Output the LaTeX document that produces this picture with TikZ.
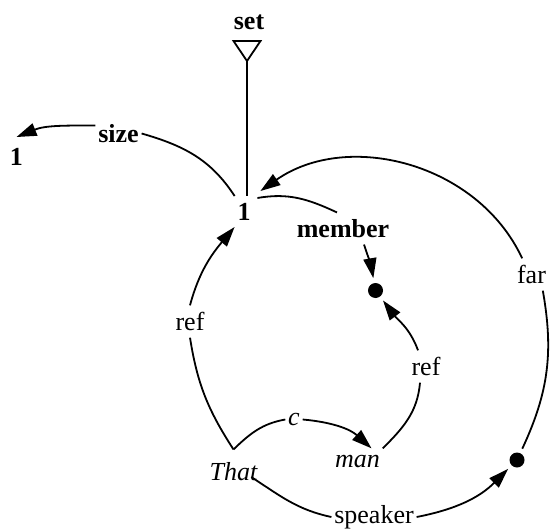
\documentclass[tikz,border=0pt]{standalone}
\usepackage{fontspec}
\setmainfont{Liberation Serif}
\usepackage{tikz}
\usetikzlibrary{arrows.meta}

\begin{document}
\begin{tikzpicture}[x=0.5pt, y=0.5pt, line width=0.9pt,
			every node/.style={inner xsep=1pt, inner ysep=3pt, font=\fontsize{13}{15}\selectfont},
			cpt/.style={font=\fontsize{13}{15}\selectfont\bfseries},
			word/.style={font=\fontsize{13}{15}\selectfont\itshape},
			blob/.style={circle, fill, inner sep=0pt, minimum size=7.5pt, outer sep=2.5pt},
			rel/.style={-{Triangle[length=10pt, width=6.5pt]}}]
			\useasboundingbox (0,0) rectangle (550,-529);

			\node[cpt] (set) at (249,-22.5) {set};
			\node[cpt] (one) at (244,-211.5) {1};
			\node[cpt, inner ysep=5pt] (oneL) at (16.5,-156.5) {1};
			\node[cpt] (size) at (118.5,-133.5) {size};
			\node[cpt] (member) at (343,-228.5) {member};
			\node[blob] (dotm) at (375.5,-290.5) {};
			\node (refL) at (190,-321.5) {ref};
			\node (refR) at (426,-366.5) {ref};
			\node[word] (c) at (294,-419.5) {c};
			\node[word] (that) at (233.5,-471.5) {That};
			\node[word] (man) at (357.5,-461.5) {man};
			\node (speaker) at (374,-517) {speaker};
			\node[blob] (dotr) at (517,-460) {};
			\node (far) at (531.5,-274.5) {far};

			\coordinate (settip) at (247,-61);
			\coordinate (thattop) at ([yshift=3pt]that.north);
			\coordinate (thatout) at ([shift={(-9,-5.5)}]that.east);

			\draw (settip) -- ++(-13.5,20) -- ++(27,0) -- cycle;
			\draw (settip) -- (settip |- one.north);

			\draw[rel] (one.north west) to[out=123, in=-16] (size.east)
				([yshift=4pt]size.west) to[out=180, in=22] (oneL.north);
			\draw[rel] (dotr) to[out=65, in=-80] (far.-55)
				(far.120) to[out=115, in=35] ([shift={(7,5)}]one.north east);
			\draw[rel] ([shift={(4,-2)}]one.north east) to[out=10, in=155] ([xshift=-3pt]member.north)
				([xshift=10.5pt]member.south) to[out=-72, in=100] (dotm);
			\draw[rel] (thattop) to[out=123, in=-81] (refL.south)
				(refL.north) to[out=75, in=-130] (one.south west);
			\draw[rel] (thattop) to[out=44, in=190] (c.west)
				(c.east) to[out=-5, in=138] ([xshift=7pt]man.north);
			\draw[rel] (man.north east) to[out=45, in=-95] ([xshift=-3pt]refR.south)
				([xshift=-4pt]refR.north) to[out=110, in=-53] (dotm);
			\draw[rel] (thatout) to[out=-33, in=168] (speaker.west)
				(speaker.east) to[out=11, in=-135] (dotr);
		\end{tikzpicture}
\end{document}
